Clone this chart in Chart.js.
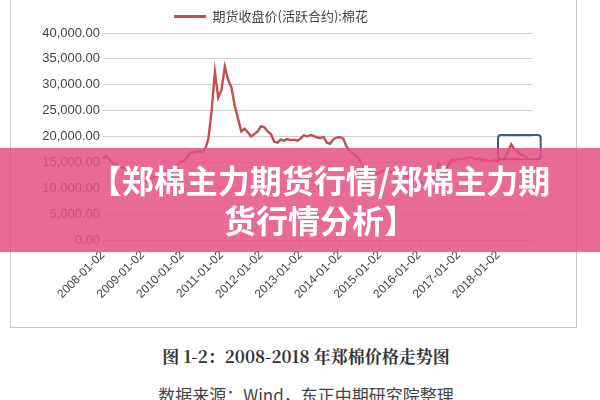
<!DOCTYPE html>
<html><head><meta charset="utf-8">
<script src="https://cdn.jsdelivr.net/npm/chart.js"></script>
<style>
body{margin:0;width:600px;height:400px;overflow:hidden;background:#fff;font-family:"Noto Sans CJK SC",sans-serif;position:relative}
#box{position:absolute;left:10px;top:-2px;width:567px;height:330px;border:1px solid #c8c8c8;box-sizing:border-box}
canvas{position:absolute;left:0;top:0}
#cap{position:absolute;top:343px;width:600px;text-align:center;font-family:"Noto Serif CJK SC","Noto Sans CJK SC",serif;font-weight:bold;font-size:17px;color:#333;padding-left:12px;box-sizing:border-box}
#src{position:absolute;top:382px;width:600px;text-align:center;font-size:17px;color:#444;padding-left:12px;box-sizing:border-box}
#banner{position:absolute;left:0;top:148px;width:600px;height:104px;background:rgba(228,82,132,0.86);color:#fff;font-weight:bold;font-size:32px;line-height:40px;text-align:center;padding-top:11px;padding-left:40px;box-sizing:border-box;white-space:nowrap}
</style></head><body>
<div id="box"></div>
<canvas id="c" width="600" height="330"></canvas>
<div id="cap">图 1-2：2008-2018 年郑棉价格走势图</div>
<div id="src">数据来源：Wind，东正中期研究院整理</div>
<div id="banner">【郑棉主力期货行情/郑棉主力期<br>货行情分析】</div>
<script>
const startYear = 2008;
const yearLabels = ["2008-01-02","2009-01-02","2010-01-02","2011-01-02","2012-01-02","2013-01-02","2014-01-02","2015-01-02","2016-01-02","2017-01-02","2018-01-02"];
const prices = [
 15800,16200,15500,14800,14600,14200,14000,13800,13000,12200,11300,11000,
 11200,11500,11800,12000,12300,12800,13000,13200,13500,13600,14200,14800,
 15200,15500,16500,17000,17000,17200,17000,17500,19500,25000,32500,27500,
 29000,33500,31000,29500,26000,23500,21000,21500,20800,20000,20500,21000,
 22000,21800,21000,20500,19000,18800,19400,19200,19500,19300,19400,19200,
 19600,20200,20000,20300,20100,19800,19700,19900,18800,18600,19500,19800,
 19900,19600,18000,17200,16800,16200,15500,14200,13500,13000,13200,12800,
 13000,13300,13500,13100,13200,13500,13300,12800,12500,12200,12100,11800,
 11300,11000,10900,11200,11600,12700,14800,14200,13800,14500,15500,15300,
 15800,15600,15800,15900,16000,15600,15800,15400,15500,15200,15300,15400,
 15300,15500,15600,17000,18500,17500,17000,16500,16200,16000
];
const pts = prices.map((v,i)=>({x:startYear+i/12,y:v}));
const boxPlugin={id:'hl',afterDatasetsDraw(ch){
  const {ctx,scales:{x,y}}=ch;
  const l=x.getPixelForValue(2018),r=x.getPixelForValue(2019.08),t=y.getPixelForValue(20300),b=y.getPixelForValue(15600);
  ctx.save();ctx.strokeStyle='#3d5a80';ctx.lineWidth=2;
  ctx.beginPath();ctx.roundRect(l,t,r-l,b-t,3);ctx.stroke();ctx.restore();}};
new Chart(document.getElementById('c'),{
 type:'line',
 data:{datasets:[{label:'期货收盘价(活跃合约):棉花',data:pts,borderColor:'#c0504d',backgroundColor:'#c0504d',borderWidth:2.4,pointRadius:0,tension:0}]},
 options:{responsive:false,animation:false,
  layout:{padding:{left:10,right:68,top:2,bottom:10}},
  plugins:{legend:{labels:{boxWidth:32,boxHeight:0,color:'#444',font:{size:13,family:'"Noto Sans CJK SC"'},padding:8,
    generateLabels(ch){return [{text:'期货收盘价(活跃合约):棉花',strokeStyle:'#c0504d',fillStyle:'#c0504d',lineWidth:3,fontColor:'#444'}];}}},tooltip:{enabled:false}},
  scales:{
   x:{type:'linear',min:2008,max:2018.86,
    afterBuildTicks(s){s.ticks=yearLabels.map((_,i)=>({value:startYear+i}));},
    afterFit(s){s.height=80;},
    ticks:{maxRotation:45,minRotation:45,color:'#444',font:{size:12,family:'"Liberation Sans"'},callback:(v)=>yearLabels[Math.round(v)-startYear]||''},
    grid:{drawOnChartArea:false,drawTicks:true,tickLength:5,color:'#bbb'},border:{color:'#bbb'}},
   y:{min:0,max:40000,afterFit(s){s.width=93;},
    ticks:{stepSize:5000,color:'#444',font:{size:13,family:'"Liberation Sans"'},callback:v=>v.toLocaleString('en-US',{minimumFractionDigits:2})},
    grid:{color:'#d0d0d0',drawTicks:false},border:{display:false}}
  }},
 plugins:[boxPlugin]
});
</script></body></html>
